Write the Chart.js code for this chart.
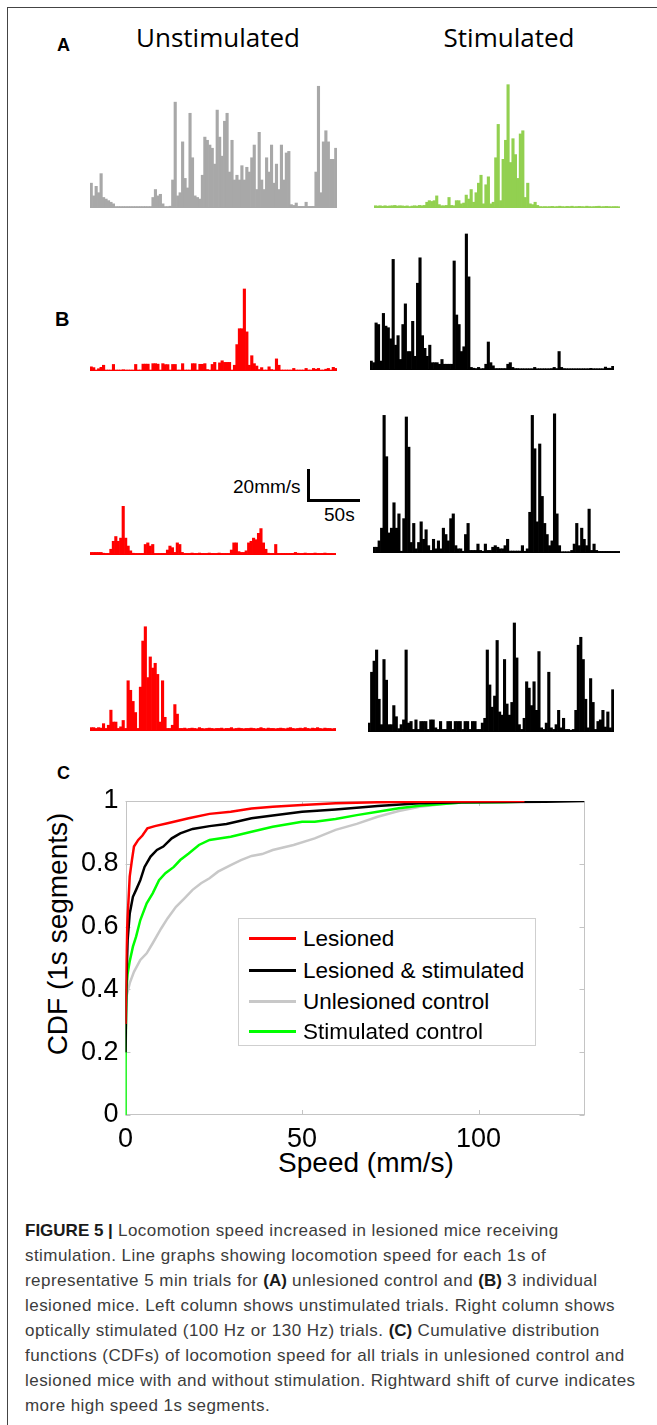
<!DOCTYPE html>
<html>
<head>
<meta charset="utf-8">
<script src="https://cdn.jsdelivr.net/npm/chart.js@4.4.0/dist/chart.umd.min.js"></script>
<style>
  html, body { margin: 0; padding: 0; background: #fff; }
  #page { position: relative; width: 657px; height: 1425px; overflow: hidden;
          font-family: "Liberation Sans", Arial, sans-serif; color: #000; }
  .frame { position: absolute; left: 7px; top: 7px; width: 700px; height: 1500px;
           border-top: 1px solid #444; border-left: 1px solid #444; }
  .abs { position: absolute; white-space: nowrap; }
  .panel { font-weight: bold; }
  .coltitle { font-family: "Open Sans", sans-serif; font-size: 26px; line-height: 1; transform: translateX(-50%); }
  canvas { position: absolute; }
  #legend { position: absolute; left: 238px; top: 918px; width: 296px; height: 126px;
            border: 1px solid #cfcfcf; background: #fff; }
  #legend .item { position: absolute; left: 0; height: 30px; width: 296px; }
  #legend .swatch { position: absolute; left: 10px; width: 47px; height: 3px; top: 13px; }
  #legend .lab { position: absolute; left: 64px; top: 0; font-size: 22.5px; line-height: 30px; }
  #caption { position: absolute; left: 25px; top: 1218px; font-size: 17px; line-height: 25px;
             letter-spacing: 0.45px; color: #3c3c3c; white-space: nowrap; }
  #caption b { color: #1a1a1a; letter-spacing: 0; }
</style>
</head>
<body>
<div id="page">
  <div class="frame"></div>

  <div class="abs panel" style="left:57px; top:35px; font-size:18px;">A</div>
  <div class="abs coltitle" style="left:218px; top:24px;">Unstimulated</div>
  <div class="abs coltitle" style="left:509px; top:24px;">Stimulated</div>
  <div class="abs panel" style="left:55px; top:308px; font-size:20px;">B</div>
  <div class="abs panel" style="left:57px; top:763px; font-size:18px;">C</div>

  <!-- scale bar -->
  <div class="abs" style="left:307px; top:469px; width:3px; height:33px; background:#000;"></div>
  <div class="abs" style="left:307px; top:499px; width:53px; height:3px; background:#000;"></div>
  <div class="abs" style="left:233px; top:476px; font-size:19px; line-height:22px;">20mm/s</div>
  <div class="abs" style="left:324px; top:504px; font-size:19px; line-height:22px;">50s</div>

  <div class="abs" style="left:58px; top:934px; font-size:28px; transform:translate(-50%,-50%) rotate(-90deg);">CDF (1s segments)</div>
  <div class="abs" style="left:366px; top:1163px; font-size:28px; transform:translate(-50%,-50%);">Speed (mm/s)</div>

  <div id="legend"></div>

  <div id="caption"><b>FIGURE 5 |</b> Locomotion speed increased in lesioned mice receiving<br>stimulation. Line graphs showing locomotion speed for each 1s of<br>representative 5 min trials for <b>(A)</b> unlesioned control and <b>(B)</b> 3 individual<br>lesioned mice. Left column shows unstimulated trials. Right column shows<br>optically stimulated (100 Hz or 130 Hz) trials. <b>(C)</b> Cumulative distribution<br>functions (CDFs) of locomotion speed for all trials in unlesioned control and<br>lesioned mice with and without stimulation. Rightward shift of curve indicates<br>more high speed 1s segments.</div>
</div>

<script>
// speed (mm/s) per time bin
var unstimControl = [15,7,13,9,21,6,5,4,3,2,
  0.3,0.3,0.3,0.3,0.3,0.3,0.3,0.3,0.3,0.3,
  0.3,0.3,0.3,0.3,0.3,6,11,7,8,2,
  0.3,0.3,0.5,17,66,7,9,41,18,12,
  59,31,7,6,5,20,44,42,39,37,
  27,61,44,32,54,59,22,42,17,20,
  17,26,17,25,22,31,39,11,47,17,
  11,31,22,39,15,27,11,39,17,34,
  35,1.5,1,2.5,0.4,0.4,0.4,3,0.4,0.4,
  0.4,22,76,9,41,48,41,30,30,37];
var stimControl = [0.8,0.6,0.8,0.5,0.8,0.5,0.7,0.8,1,0.6,
  0.8,0.7,0.5,0.7,0.3,0.6,0.8,0.6,1,0.8,
  1,3,4,3.5,4,7,1.5,0.8,0.8,1,
  6,1,0.8,4,4,2,2.5,7.5,5,11,
  3,9,15,20,2,14,19,2,3,31,
  52,4,30,42,77,28,43,33,18,46,
  48,6,15,2,1.5,3,1,0.3,0.2,0.3,
  0.2,0.3,0.4,0.2,0.3,0.5,0.3,0.2,0.4,0.3,
  0.5,0.2,0.3,0.4,0.3,0.2,0.5,0.3,0.2,0.3,
  0.4,0.5,0.2,0.3,0.4,0.3,0.2,0.3,0.3,0.2];
var mouse1Unstim = [2,1.5,0,0.8,1.7,3,0,0,0,3.5,
  0,0,0,0.2,0,0,0,0,3.5,0,
  0,3.7,3.7,3.7,0,4,4,3.7,0,4,
  3.4,3.4,0,3.5,3.5,0,0,4,0,0,
  0,4,4,0,3.6,3.6,4,0.3,0,3.5,
  4.8,0,4.5,5.8,4.8,4.8,4.8,0,3,16,
  26,26,51,24,3,9,4,2.5,0.3,1.5,
  0,0,2,0.3,0,7,3,0,0,0,
  0,0,1,0,0,0,0,1,0,0,
  1,0.5,1,0,0,0.5,1,0,1.7,1];
var mouse1Stim = [5,4,29,28,5,35,27,26,19,69,
  15,21,6,28,41,11,11,30,8,54,
  70,21,13,8,15,4,4,4,3,6,
  3,3,3,3,68,34,28,11,14,85,
  58,1,0.5,0.3,1,0.2,0.3,3,17,4,
  2,0.3,0.3,0.3,0.3,0.3,3,4,1,0.3,
  0.3,0.2,0.2,0.2,0.2,0.2,0.2,1,0.2,0.2,
  0.2,0.2,0.2,0.2,0.3,1,0.3,11,1,0.3,
  0.2,0.2,0.2,0.2,0.2,0.2,0.2,0.2,0.2,0.2,
  0.4,0.2,0.2,0.2,0.2,0.2,1.2,0.5,0.5,1.7];
var mouse2Unstim = [1,1,1,1,1,0.5,0.4,0.4,3,8,
  11,8,10,30,10,5,2,0.5,0.4,0.4,
  0.4,0.4,6,7,5,6,0.4,0.4,0.4,0.4,
  0.4,2.5,5,4,1,7,6,1,0.4,0.4,
  0.4,0.6,0.4,0.4,0.6,0.4,0.4,0.4,0.6,0.4,
  0.4,0.4,0.6,0.4,0.4,0.4,0.4,2.5,7,7,
  1.5,1,1,2,7,8,10,9,13,16,
  7,3,0.5,0.4,0.4,6,0.4,0.4,0.4,0.4,
  0.4,0.4,0.4,1,0.5,0.4,0.4,0.6,0.4,0.4,
  0.4,0.6,0.4,0.4,0.4,0.6,0.4,0.4,0.4,0.4];
var mouse2Stim = [3,3,7,15,86,60,12,15,31,15,
  24,0.5,21,85,66,6,18,2,6,19,
  8,14,4,1,8,2,7,2,15,11,
  7,21,24,4,2,2,0.5,11,18,1,
  1,1,5,1,0.5,5,1,1,3,4,
  3,2,2,4,8,0.6,0.6,0.6,0.6,0.6,
  4,0.5,2,25,86,65,19,68,35,18,
  11,4,7,87,24,4,0.2,0.2,0.2,0.2,
  1,5,18,4,15,8,4,27,1,5,
  1,0.4,0.4,0.4,0.4,0.4,0.4,0.4,0.4,0.4];
var mouse3Unstim = [1.5,1.5,1,1.5,1.2,4,1,3,12.5,5,
  5,1,2,6,1,31,25,18,11,1,
  27,56,65,33,46,39,42,35,5,31,
  8,1,1,3,16,10,1,1,1.2,0.8,
  1,1.2,1,0.8,1.5,1,0.8,1,1.2,1,
  0.8,1,1,1.2,0.8,1,1,1.5,0.8,1,
  1.2,1,0.8,1,1,1.2,1,0.8,1,1.5,
  1,0.8,1.2,1,1,0.8,1,1.2,1,0.8,
  1.2,1.5,1,0.8,1,1.2,1,1.5,1,0.8,
  1.2,1,1.5,1,0.8,1.2,1,1,0.8,1];
var mouse3Stim = [5,37,44,51,20,4,45,32,4,4,
  16,9,1.5,4,7,51,5,6,1,7,
  1,6,6,6,1,7,7,2,1,6,
  1,1,6,6,1,6,6,6,1,6,
  6,1,6,6,1,1,5,8,51,29,
  15,22,57,12,10,45,17,10,18,68,
  46,4,1,8,31,27,16,31,13,50,
  2,1,5,37,2,1,4,13,2,8,
  1,1,0.5,1,13,54,59,45,20,2,
  33,18,1,6,7,13,2.5,12,2,26];

// CDF curves: speed (mm/s) and cumulative fraction
var lesionedSpeed = [0,0.25,0.6,1.2,1.8,2.4,3.6,4.8,6.2,8.3,11.9,17.9,23.8,29.8,35.7,41.7,50,59.5,71.4,83.3,113];
var lesionedCdf   = [0.29,0.525,0.63,0.76,0.81,0.855,0.876,0.89,0.913,0.92,0.929,0.945,0.959,0.966,0.976,0.982,0.987,0.993,0.996,0.998,1];
var lesStimSpeed = [0,0.25,0.6,1.2,2.1,3,4.2,5.4,7.1,8.9,10.7,13.1,15.5,19,23.8,28.6,35.7,41.7,50,59.5,71.4,83.3,95.2,119,130];
var lesStimCdf   = [0.2,0.42,0.557,0.642,0.695,0.717,0.748,0.79,0.823,0.844,0.855,0.881,0.897,0.911,0.92,0.927,0.945,0.954,0.966,0.973,0.984,0.993,0.996,0.998,1];
var unlesSpeed = [0,0.25,1.2,2.4,4.2,6,7.7,10.1,11.9,14.3,16.7,19,21.4,23.8,26.2,29.8,32.7,35.7,38.7,41.7,47.6,53.6,59.5,65.5,71.4,77.4,83.3,89.3,95.2,107,110.7];
var unlesCdf   = [0.3,0.377,0.42,0.456,0.494,0.515,0.547,0.594,0.626,0.663,0.69,0.717,0.738,0.754,0.775,0.796,0.812,0.825,0.831,0.844,0.86,0.881,0.908,0.927,0.95,0.968,0.982,0.99,0.995,0.998,1];
var stimCtlSpeed = [0,0,0.25,0.6,1.2,2.1,3,4.2,6,7.7,9.5,11.3,13.7,15.5,17.9,20.8,23.8,29.8,35.7,41.7,50,53.6,59.5,65.5,71.4,77.4,83.3,95.2,107,119.6];
var stimCtlCdf   = [0,0.16,0.4,0.45,0.49,0.536,0.568,0.621,0.674,0.706,0.748,0.77,0.79,0.812,0.833,0.86,0.876,0.886,0.902,0.918,0.934,0.934,0.943,0.955,0.966,0.977,0.985,0.995,0.996,1];

var xTicks = [0, 50, 100];
var yTicks = [0, 0.2, 0.4, 0.6, 0.8, 1];

var page = document.getElementById('page');

function traceChart(values, color, left, right, baseline) {
  var c = document.createElement('canvas');
  var h = 140;
  c.width = right - left; c.height = h;
  c.style.left = left + 'px'; c.style.top = (baseline - h + 1) + 'px';
  page.appendChild(c);
  return new Chart(c, {
    type: 'bar',
    data: {
      labels: values.map(function(v, i) { return i; }),
      datasets: [{ data: values, backgroundColor: color, borderWidth: 0,
                   barPercentage: 1, categoryPercentage: 1 }]
    },
    options: {
      responsive: false, animation: false, devicePixelRatio: 1,
      layout: { padding: 0 },
      plugins: { legend: { display: false }, tooltip: { enabled: false } },
      scales: {
        x: { grid: { display: false, drawTicks: false }, ticks: { display: false },
             border: { display: true, color: color, width: 1 },
             afterFit: function(s) { s.height = 1; } },
        y: { display: false, min: 0, max: 87.5 }
      }
    }
  });
}

traceChart(unstimControl, '#a8a8a8', 90, 337, 207);
traceChart(stimControl, '#92d050', 374, 620, 207);
traceChart(mouse1Unstim, '#ff0000', 90, 337, 370);
traceChart(mouse1Stim, '#000000', 370, 614, 369);
traceChart(mouse2Unstim, '#ff0000', 90, 336, 554);
traceChart(mouse2Stim, '#000000', 373, 620, 552);
traceChart(mouse3Unstim, '#ff0000', 90, 336, 730);
traceChart(mouse3Stim, '#000000', 368, 614, 731);

function pts(xs, ys) {
  return xs.map(function(x, i) { return { x: x, y: ys[i] }; });
}

var boxPlugin = {
  id: 'box',
  beforeDatasetsDraw: function(chart) {
    var a = chart.chartArea, ctx = chart.ctx;
    var xs = chart.scales.x, ys = chart.scales.y;
    ctx.save();
    ctx.strokeStyle = '#c4c4c4';
    ctx.lineWidth = 1;
    ctx.strokeRect(Math.round(a.left) + 0.5, Math.round(a.top) + 0.5,
                   Math.round(a.right - a.left) - 1, Math.round(a.bottom - a.top) - 1);
    ctx.beginPath();
    yTicks.forEach(function(v) {
      var y = Math.round(ys.getPixelForValue(v)) + 0.5;
      ctx.moveTo(a.left, y); ctx.lineTo(a.left + 5, y);
      ctx.moveTo(a.right - 5, y); ctx.lineTo(a.right, y);
    });
    xTicks.forEach(function(v) {
      var x = Math.round(xs.getPixelForValue(v)) + 0.5;
      ctx.moveTo(x, a.bottom); ctx.lineTo(x, a.bottom - 5);
      ctx.moveTo(x, a.top); ctx.lineTo(x, a.top + 5);
    });
    ctx.stroke();
    ctx.restore();
  }
};

var series = [
  { label: 'Lesioned', color: '#ff0000', data: pts(lesionedSpeed, lesionedCdf), order: 0 },
  { label: 'Lesioned & stimulated', color: '#000000', data: pts(lesStimSpeed, lesStimCdf), order: 1 },
  { label: 'Unlesioned control', color: '#c8c8c8', data: pts(unlesSpeed, unlesCdf), order: 3 },
  { label: 'Stimulated control', color: '#00ff00', data: pts(stimCtlSpeed, stimCtlCdf), order: 2 }
];

var cdfCanvas = document.createElement('canvas');
cdfCanvas.width = 600; cdfCanvas.height = 400;
cdfCanvas.style.left = '0px'; cdfCanvas.style.top = '770px';
page.insertBefore(cdfCanvas, document.getElementById('legend'));

new Chart(cdfCanvas, {
  type: 'line',
  data: {
    datasets: series.map(function(s) {
      return { label: s.label, data: s.data, borderColor: s.color, backgroundColor: s.color,
               borderWidth: 2.5, pointRadius: 0, tension: 0, fill: false, order: s.order };
    })
  },
  options: {
    responsive: false, animation: false, devicePixelRatio: 1,
    layout: { padding: { top: 31, right: 15.5, left: 0, bottom: 0 } },
    plugins: { legend: { display: false }, tooltip: { enabled: false } },
    scales: {
      x: {
        type: 'linear', min: 0, max: 130,
        grid: { display: false, drawTicks: false }, border: { display: false },
        afterBuildTicks: function(s) { s.ticks = xTicks.map(function(v) { return { value: v }; }); },
        ticks: { padding: 8, color: '#000', font: { size: 27, family: 'Liberation Sans' } },
        afterFit: function(s) { s.height = 55; }
      },
      y: {
        min: 0, max: 1,
        grid: { display: false, drawTicks: false }, border: { display: false },
        afterBuildTicks: function(s) { s.ticks = yTicks.map(function(v) { return { value: v }; }); },
        ticks: { padding: 7, color: '#000', font: { size: 27, family: 'Liberation Sans' },
                 callback: function(v) { return String(v); } },
        afterFit: function(s) { s.width = 125.5; }
      }
    }
  },
  plugins: [boxPlugin]
});

// legend
var legend = document.getElementById('legend');
var itemTops = [5, 37, 68, 98];
series.forEach(function(s, i) {
  var it = document.createElement('div');
  it.className = 'item';
  it.style.top = itemTops[i] + 'px';
  it.innerHTML = '<div class="swatch" style="background:' + s.color + '"></div><div class="lab">' +
                 s.label.replace('&', '&amp;') + '</div>';
  legend.appendChild(it);
});
</script>
</body>
</html>
